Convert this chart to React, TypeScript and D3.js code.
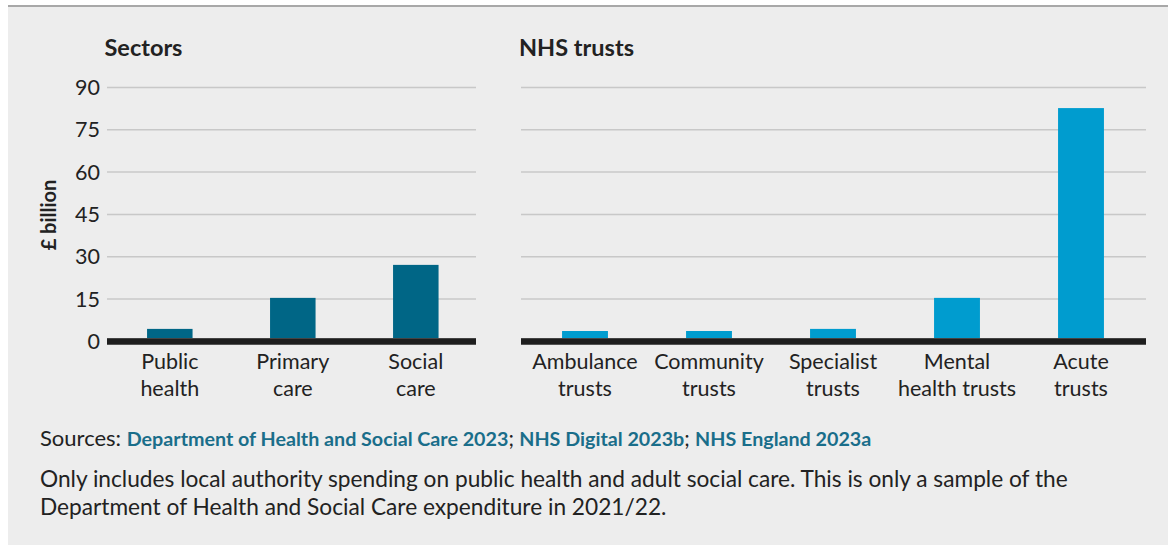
import React from "react";
import * as d3 from "d3";

const sectorCategories = [["Public", "health"], ["Primary", "care"], ["Social", "care"]];
const sectorValues = [4.4, 15.4, 27.1];
const trustCategories = [["Ambulance", "trusts"], ["Community", "trusts"], ["Specialist", "trusts"], ["Mental", "health trusts"], ["Acute", "trusts"]];
const trustValues = [3.65, 3.65, 4.4, 15.4, 82.7];
const yTicks = [0, 15, 30, 45, 60, 75, 90];
const panelTitles = ["Sectors", "NHS trusts"];
const yAxisTitle = "£ billion";
const sourcesLabel = "Sources:";
const sourceLinks = ["Department of Health and Social Care 2023", "NHS Digital 2023b", "NHS England 2023a"];
const noteLines = [
  "Only includes local authority spending on public health and adult social care. This is only a sample of the",
  "Department of Health and Social Care expenditure in 2021/22.",
];

const FONT = "Lato, 'Open Sans', sans-serif";

export default function App() {
  const y = d3.scaleLinear().domain([0, 90]).range([341.3, 87.5]);
  const xL = d3.scaleBand().domain(sectorCategories.map((c) => c.join(" "))).range([108.3, 477.3]).paddingInner(0.63).paddingOuter(0.315);
  const xR = d3.scaleBand().domain(trustCategories.map((c) => c.join(" "))).range([523, 1143]).paddingInner(0.63).paddingOuter(0.315);

  const panel = (x: d3.ScaleBand<string>, cats: string[][], vals: number[], color: string, x0: number, x1: number) => (
    <g>
      {yTicks.filter((t) => t > 0).map((t) => (
        <line key={t} x1={x0} x2={x1} y1={y(t)} y2={y(t)} stroke="#c8c8c8" strokeWidth={1.5} />
      ))}
      {cats.map((c, i) => {
        const k = c.join(" ");
        return (
          <rect key={k} x={x(k)} width={x.bandwidth()} y={y(vals[i])} height={y(0) - y(vals[i])} fill={color} />
        );
      })}
      <rect x={x0} width={x1 - x0} y={y(0) - 3.3} height={7} fill="#6a6a6a" />
      <rect x={x0} width={x1 - x0} y={y(0) - 2.8} height={5.8} fill="#1e1e1e" />
      {cats.map((c) => {
        const k = c.join(" ");
        const cx = (x(k) as number) + x.bandwidth() / 2;
        return (
          <text key={k} x={cx} textAnchor="middle" fontSize={21.5} fill="#222" fontFamily={FONT}>
            <tspan x={cx} y={369.3}>{c[0]}</tspan>
            <tspan x={cx} y={396}>{c[1]}</tspan>
          </text>
        );
      })}
    </g>
  );

  return (
    <div style={{ position: "absolute", left: 0, top: 0 }}>
      <svg width={1168} height={547} style={{ display: "block" }}>
        <rect x={8} y={6} width={1160} height={539} fill="#ededed" />
        <line x1={8} x2={1168} y1={6} y2={6} stroke="#a8a8a8" strokeWidth={2} />
        <text x={104.5} y={55.5} fontSize={23.5} fontWeight={700} fill="#222" fontFamily={FONT}>{panelTitles[0]}</text>
        <text x={519} y={55.5} fontSize={23.5} fontWeight={700} fill="#222" fontFamily={FONT}>{panelTitles[1]}</text>
        {yTicks.map((t) => (
          <text key={t} x={100} y={y(t)} dy="0.35em" textAnchor="end" fontSize={21.5} fill="#222" fontFamily={FONT}>{t}</text>
        ))}
        <text transform={`translate(56,215) rotate(-90)`} textAnchor="middle" fontSize={20} fontWeight={700} fill="#222" fontFamily={FONT}>{yAxisTitle}</text>
        {panel(xL, sectorCategories, sectorValues, "#006686", 107, 476)}
        {panel(xR, trustCategories, trustValues, "#009ccf", 521, 1146)}
        <text x={40} y={446} fontSize={19.7} fill="#222" fontFamily={FONT}>
          <tspan fontSize={22}>{sourcesLabel} </tspan>
          {sourceLinks.map((s, i) => (
            <React.Fragment key={s}>
              <tspan fill="#1a6e8a" fontWeight={700}>{s}</tspan>
              {i < sourceLinks.length - 1 ? <tspan fontSize={21}>; </tspan> : null}
            </React.Fragment>
          ))}
        </text>
        {noteLines.map((l, i) => (
          <text key={i} x={40} y={487 + i * 28} fontSize={22.7} fill="#222" fontFamily={FONT}>{l}</text>
        ))}
      </svg>
    </div>
  );
}
